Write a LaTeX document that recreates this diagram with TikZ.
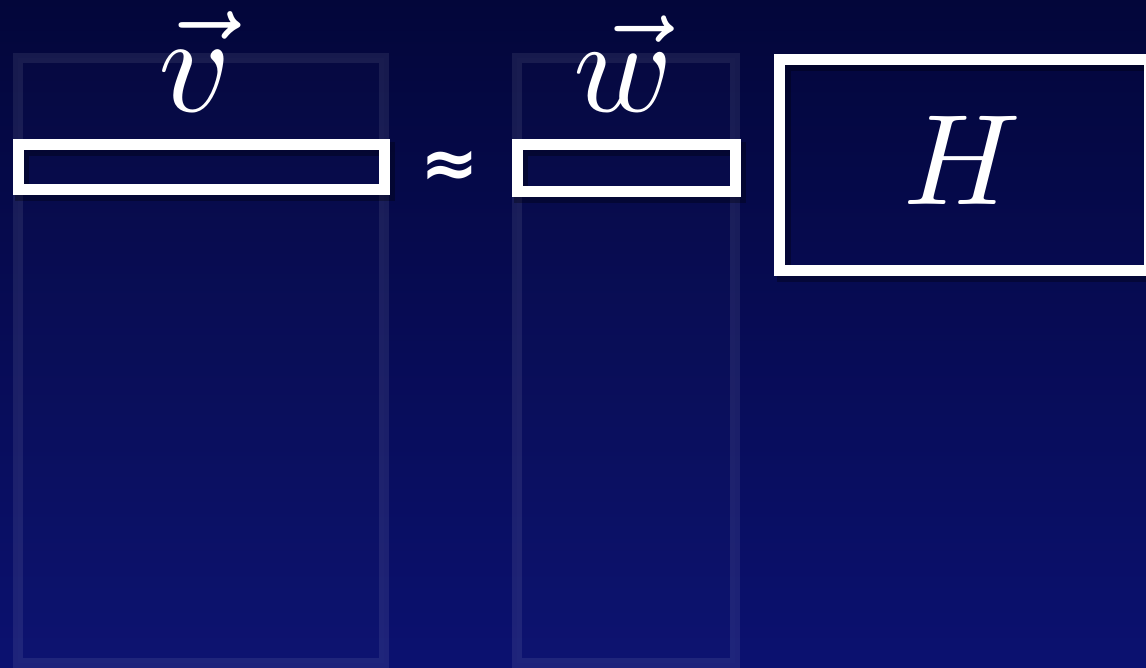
\documentclass[tikz,border=0pt]{standalone}
\usepackage{graphicx}
\usepackage{fontspec}
\newfontfamily\dejab{DejaVu Sans}[BoldFont={DejaVu Sans Bold}]
\usetikzlibrary{shadows}
\definecolor{bgtop}{HTML}{03063A}
\definecolor{bgbot}{HTML}{0B1170}
\tikzset{
  faint/.style={draw=white, draw opacity=0.08, line width=10pt, fill=white, fill opacity=0.01},
  wbox/.style={draw=white, line width=11pt, rectangle, inner sep=0pt,
    drop shadow={shadow xshift=4pt, shadow yshift=-5pt, opacity=0.3, fill=none, draw=black, line width=14pt}},
  lab/.style={text=white, inner sep=0pt, anchor=base}
}
\begin{document}
\begin{tikzpicture}[x=1pt,y=-1pt]
\useasboundingbox (0,0) rectangle (1146,668);
\shade[top color=bgtop, bottom color=bgbot] (0,0) rectangle (1146,668);
% faint columns
\draw[faint] (18,58) rectangle (384,663);
\draw[faint] (517,58) rectangle (735,663);
% white boxes
\node[wbox, minimum width=366pt, minimum height=45pt] (vbox) at (201,167) {};
\node[wbox, minimum width=218pt, minimum height=47pt] (wbox) at (626,168) {};
\node[wbox, minimum width=370pt, minimum height=211pt] (hbox) at (964.5,164.75) {};
% labels
\node[lab] (vlab) at (195,112) {\scalebox{14}{$\vec{v}$}};
\node[lab] (wlab) at (623,112) {\scalebox{13.4}{$\vec{w}$}};
\node[lab] (hlab) at (962,205) {\scalebox{12.9}{$H$}};
\node[text=white, inner sep=0pt] (approx) at (450,169) {\scalebox{7}{\dejab\bfseries ≈}};
\end{tikzpicture}
\end{document}
